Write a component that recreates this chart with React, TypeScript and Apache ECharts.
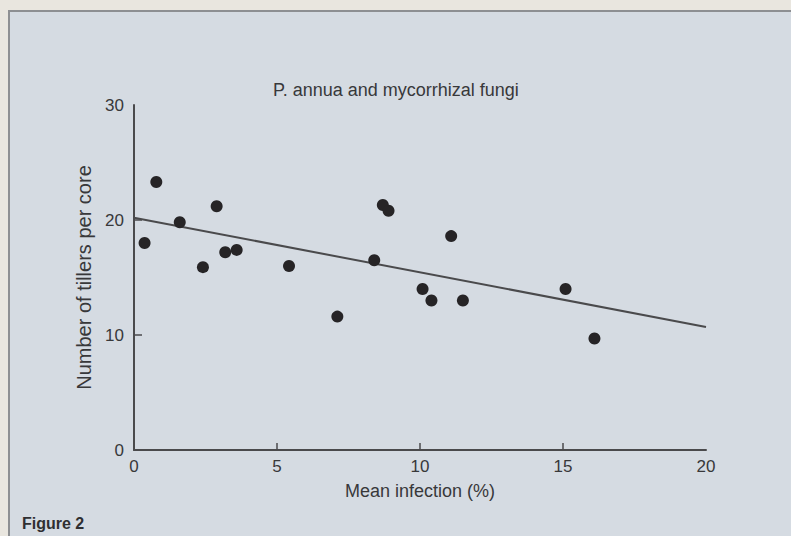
import React, { useEffect, useRef } from "react";
import * as echarts from "echarts";

const titleText = "P. annua and mycorrhizal fungi";
const xAxisName = "Mean infection (%)";
const yAxisName = "Number of tillers per core";
const figureLabel = "Figure 2";

// Mean infection (%)
const infection = [0.37, 0.78, 1.6, 2.41, 2.89, 3.19, 3.59, 5.42, 7.11, 8.4, 8.7, 8.9, 10.09, 10.4, 11.09, 11.5, 15.09, 16.1];
// Number of tillers per core
const tillers = [18.0, 23.3, 19.8, 15.9, 21.2, 17.2, 17.4, 16.0, 11.6, 16.5, 21.3, 20.8, 14.0, 13.0, 18.6, 13.0, 14.0, 9.7];

// Fitted regression line end points
const fitX = [0, 20];
const fitY = [20.2, 10.7];

const xTicks = [0, 5, 10, 15, 20];
const yTicks = [0, 10, 20, 30];

export default function App() {
  const ref = useRef<HTMLDivElement>(null);

  useEffect(() => {
    document.body.style.margin = "0";
    if (!ref.current) return;
    const chart = echarts.init(ref.current, undefined, { renderer: "svg" });
    const font = "'Liberation Sans', Arial, Helvetica, sans-serif";
    const textColor = "#38383a";
    const axisColor = "#4a4a4c";

    chart.setOption({
      animation: false,
      backgroundColor: "#e9e6df",
      textStyle: { fontFamily: font },
      graphic: [
        {
          type: "rect",
          shape: { x: 9, y: 11, width: 800, height: 540 },
          style: { fill: "#d5dbe2", stroke: "#8d8f92", lineWidth: 2 },
          z: -10,
        },
        {
          type: "text",
          left: 22,
          top: 515,
          style: {
            text: figureLabel,
            font: `bold 16px ${font}`,
            fill: "#2f2f31",
          },
        },
      ],
      title: {
        text: titleText,
        left: 268,
        top: 76,
        textStyle: { fontFamily: font, fontSize: 18, fontWeight: "normal", color: textColor },
      },
      grid: { left: 134, right: 85, top: 105, bottom: 86, containLabel: false },
      xAxis: {
        type: "value",
        min: 0,
        max: 20,
        interval: 5,
        name: xAxisName,
        nameLocation: "middle",
        nameGap: 32,
        nameTextStyle: { fontFamily: font, fontSize: 18, color: textColor },
        axisLine: { show: true, lineStyle: { color: axisColor, width: 2 } },
        axisTick: { show: true, inside: true, length: 7, customValues: [5, 10, 15], lineStyle: { color: axisColor, width: 1.5 } },
        axisLabel: { customValues: xTicks, margin: 8, fontFamily: font, fontSize: 17, color: textColor },
        splitLine: { show: false },
      },
      yAxis: {
        type: "value",
        min: 0,
        max: 30,
        interval: 10,
        name: yAxisName,
        nameLocation: "middle",
        nameRotate: 90,
        nameGap: 38,
        nameTextStyle: { fontFamily: font, fontSize: 20, color: textColor },
        axisLine: { show: true, lineStyle: { color: axisColor, width: 2 } },
        axisTick: { show: true, inside: true, length: 8, customValues: [10, 20], lineStyle: { color: axisColor, width: 1.5 } },
        axisLabel: { customValues: yTicks, margin: 10, fontFamily: font, fontSize: 17, color: textColor },
        splitLine: { show: false },
      },
      series: [
        {
          type: "line",
          data: fitX.map((x, i) => [x, fitY[i]]),
          symbol: "none",
          lineStyle: { color: "#4a4a4c", width: 2 },
          z: 2,
        },
        {
          type: "scatter",
          data: infection.map((x, i) => [x, tillers[i]]),
          symbol: "circle",
          symbolSize: 12,
          itemStyle: { color: "#262426", opacity: 1 },
          z: 3,
        },
      ],
    });

    return () => chart.dispose();
  }, []);

  return <div ref={ref} style={{ width: 791, height: 536 }} />;
}
